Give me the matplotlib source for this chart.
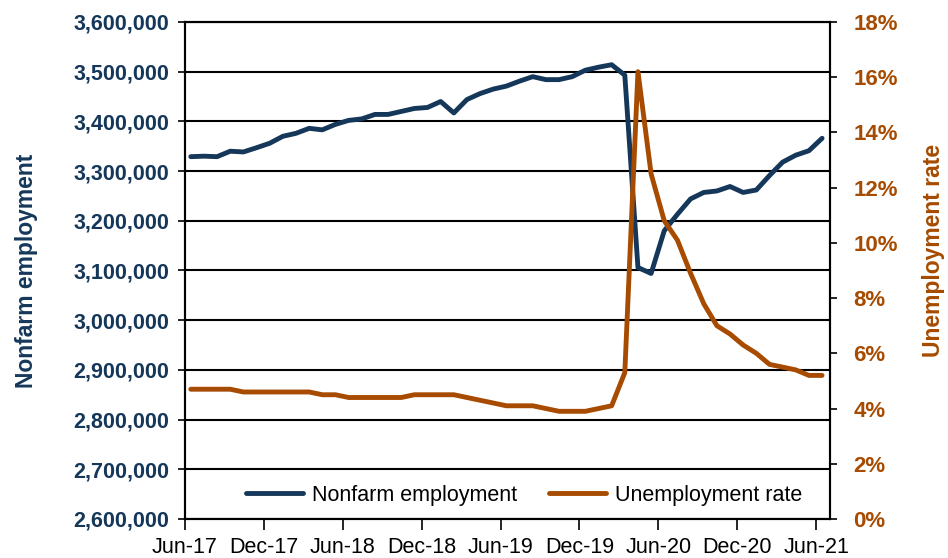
import numpy as np
import matplotlib
matplotlib.use('Agg')
import matplotlib.pyplot as plt
import matplotlib.ticker as mticker

plt.rcParams['font.family'] = ['Liberation Sans', 'DejaVu Sans']

# monthly data Jun-17 .. Jun-21
tick_labels = ['Jun-17', 'Dec-17', 'Jun-18', 'Dec-18', 'Jun-19',
               'Dec-19', 'Jun-20', 'Dec-20', 'Jun-21']
nonfarm = [3329000, 3330000, 3329000, 3340000, 3338500, 3347000, 3356000,
           3370000, 3376000, 3386000, 3383000, 3394000, 3402000, 3405000,
           3414000, 3414000, 3420000, 3426000, 3428000, 3440000, 3417000,
           3444000, 3456000, 3465000, 3471000, 3481000, 3490000, 3484000,
           3484000, 3490000, 3503000, 3509000, 3514000, 3493000, 3106000,
           3094000, 3180000, 3213000, 3244000, 3257000, 3260000, 3269000,
           3257000, 3262000, 3291000, 3318000, 3332000, 3341000, 3366000]
unemp = [4.7, 4.7, 4.7, 4.7, 4.6, 4.6, 4.6, 4.6, 4.6, 4.6, 4.5, 4.5,
         4.4, 4.4, 4.4, 4.4, 4.4, 4.5, 4.5, 4.5, 4.5, 4.4, 4.3, 4.2,
         4.1, 4.1, 4.1, 4.0, 3.9, 3.9, 3.9, 4.0, 4.1, 5.3, 16.2, 12.5,
         10.8, 10.1, 8.9, 7.8, 7.0, 6.7, 6.3, 6.0, 5.6, 5.5, 5.4, 5.2, 5.2]

navy = '#15375A'
orange = '#A64B00'

x = np.arange(len(nonfarm)) + 0.45

fig = plt.figure(figsize=(9.48, 5.58), dpi=100)
ax = fig.add_axes([0.195, 0.0699, 0.6805, 0.8907])
ax2 = ax.twinx()

l1, = ax.plot(x, nonfarm, color=navy, lw=3.5, solid_capstyle='round',
              solid_joinstyle='round', label='Nonfarm employment', zorder=3)
l2, = ax2.plot(x, unemp, color=orange, lw=3.5, solid_capstyle='round',
               solid_joinstyle='round', label='Unemployment rate', zorder=3)

ax.set_xlim(0, 49.05)
ax.set_ylim(2600000, 3600000)
ax.set_yticks(np.arange(2600000, 3600001, 100000))
ax.yaxis.set_major_formatter(mticker.FuncFormatter(lambda v, p: '{:,.0f}'.format(v)))
ax.grid(axis='y', color='black', lw=1.5, zorder=0)
ax.set_xticks(np.arange(0, 49, 6))
ax.set_xticklabels(tick_labels, fontsize=15.5)
ax.tick_params(axis='x', length=8, width=1.2, pad=5)
ax.tick_params(axis='y', length=5, width=1.2, labelsize=15.5,
               labelcolor=navy, pad=6)
for t in ax.get_yticklabels():
    t.set_fontweight('bold')

ax2.set_ylim(0, 18)
ax2.set_yticks(np.arange(0, 19, 2))
ax2.yaxis.set_major_formatter(mticker.FuncFormatter(lambda v, p: '{:.0f}%'.format(v)))
ax2.tick_params(axis='y', length=5, width=1.2, labelsize=16,
                labelcolor=orange, pad=12)
for t in ax2.get_yticklabels():
    t.set_fontweight('bold')

for a in (ax, ax2):
    for s in a.spines.values():
        s.set_linewidth(1.5)
        s.set_color('black')

ax.set_ylabel('Nonfarm employment', color=navy, fontsize=16.5,
              fontweight='bold')
ax.yaxis.set_label_coords(-0.228, 0.5)
ax2.set_ylabel('Unemployment rate', color=orange, fontsize=16.5,
               fontweight='bold')
ax2.yaxis.set_label_coords(1.143, 0.54)

ax.legend(handles=[l1, l2], loc='lower center', ncol=2, frameon=False,
          fontsize=15.5, handlelength=2.65, handletextpad=0.4,
          columnspacing=1.5, bbox_to_anchor=(0.526, -0.012))

plt.savefig('out.png', dpi=100)
